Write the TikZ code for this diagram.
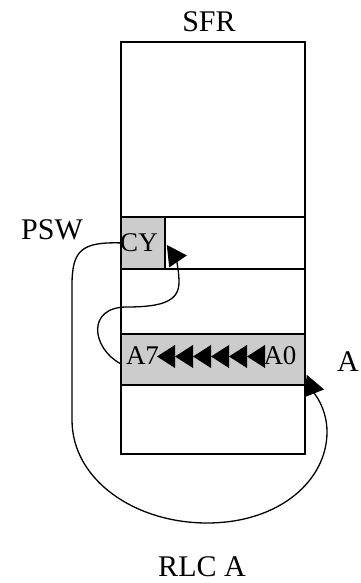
\documentclass[tikz,border=0pt]{standalone}
\usepackage{fontspec}
\setmainfont{Liberation Serif}
\usetikzlibrary{arrows.meta,calc}
\tikzset{
  reg/.style = {draw, line width=1.8pt, inner sep=0pt, anchor=north west},
  bit/.style = {reg, fill=black!20},
  lbl/.style = {font=\fontsize{30}{36}\selectfont, anchor=base, inner sep=0pt},
  txt/.style = {font=\fontsize{27}{32}\selectfont, anchor=base, inner sep=0pt},
  ar/.style  = {-{Triangle[length=20pt,width=21pt]}, line width=1.3pt}
}
\begin{document}
\begin{tikzpicture}[x=1pt,y=1pt]
  \useasboundingbox (0,0) rectangle (360,583);
  % registers
  \node[reg, minimum width=184pt, minimum height=412pt] (sfr) at (120,542) {};
  \node[reg, minimum width=184pt, minimum height=52pt] (psw) at (120,367) {};
  \node[bit, minimum width=44pt, minimum height=52pt] (cy) at (120,367) {};
  \node[bit, minimum width=184pt, minimum height=51pt] (acc) at (120,250) {};
  % texts
  \node[txt] (cyt) at (139,331) {CY};
  \node[txt] (a7) at (142.5,218) {A7};
  \node[txt] (a0) at (280,218) {A0};
  \node[lbl] (sfrl) at (209,551) {SFR};
  \node[lbl] (pswl) at (52,343) {PSW};
  \node[lbl] (accl) at (348,211) {A};
  \node[lbl] (rlc) at (202,6) {RLC A};
  % shift marks
  \foreach \x in {157,175,...,247}
    \fill (\x,226.5) -- ++(18,11.5) -- ++(0,-23) -- cycle;
  % rotate paths
  \draw[ar] (cy.west) .. controls (82,341) and (72,333) .. (72,298) -- (72,163)
    .. controls (72,103) and (135,60) .. (207,60)
    .. controls (280,60) and (327,103) .. (327,151)
    .. controls (327,175) and (314,190) .. ($(acc.south east)+(1,11)$);
  \draw[ar] ($(acc.west)+(0,-4)$) .. controls (92,235) and (86,276) .. (127,276)
    .. controls (165,276) and (179,283) .. (179,301)
    .. controls (179,315) and (175,326) .. ($(cy.east)+(1,-2)$);
\end{tikzpicture}
\end{document}
